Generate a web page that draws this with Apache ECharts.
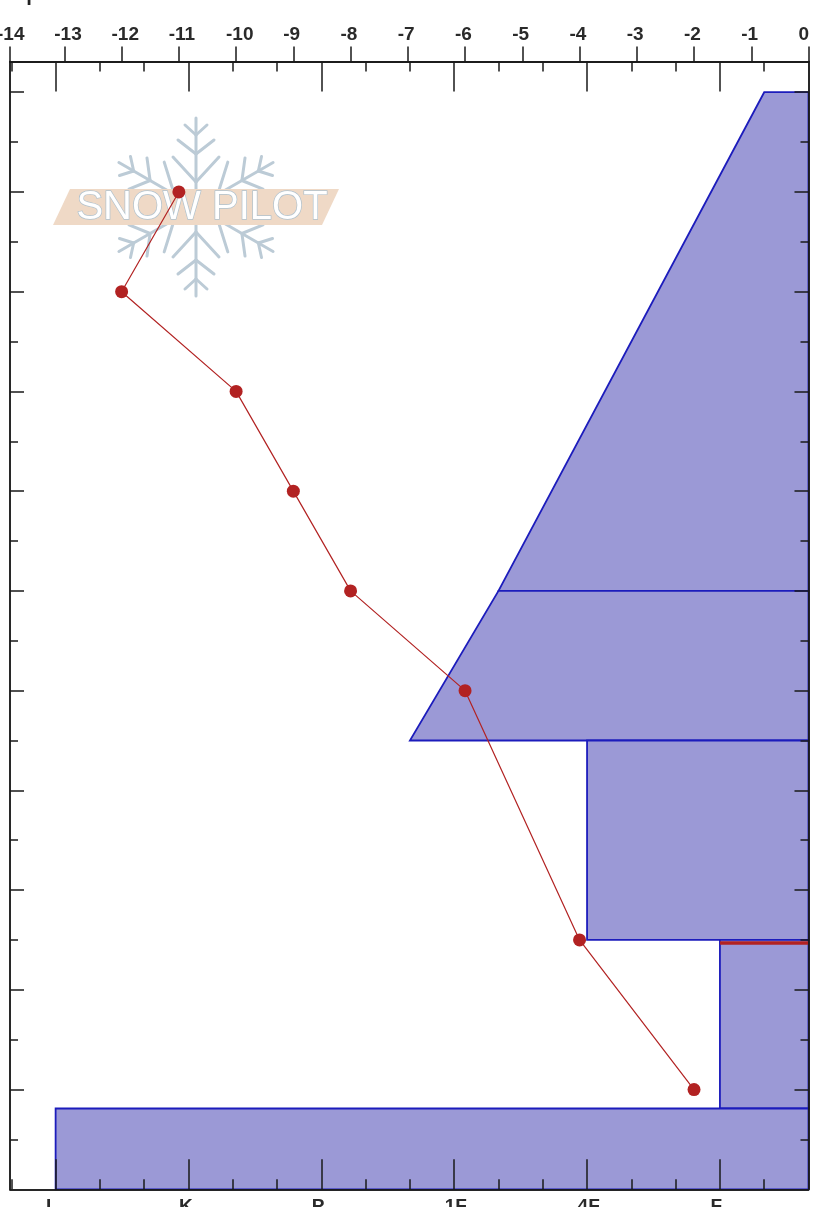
<!DOCTYPE html>
<html>
<head>
<meta charset="utf-8">
<style>
  html, body { margin: 0; padding: 0; background: #fff; overflow: hidden; }
  #main { width: 814px; height: 1207px; }
</style>
<script src="https://cdn.jsdelivr.net/npm/echarts@6/dist/echarts.min.js"></script>
</head>
<body>
<div id="main"></div>
<script>
  // temperature profile
  const tempHeights = [100, 90, 80, 70, 60, 50, 25, 10];
  const tempValues = [-11, -12, -10, -9, -8, -6, -4, -2];
  const tempTickLabels = [-14, -13, -12, -11, -10, -9, -8, -7, -6, -5, -4, -3, -2, -1, 0];

  // hardness scale, in thirds of a step counted from the right edge
  const hardnessLabels = ['I', 'K', 'P', '1F', '4F', 'F'];
  const hardnessMajor = [-17, -14, -11, -8, -5, -2];
  const hardnessMinor = [-18, -16, -15, -13, -12, -10, -9, -7, -6, -4, -3, -1];

  // snow layers, top to bottom
  const layerTop = [110, 60, 45, 25, 8.1];
  const layerBottom = [60, 45, 25, 8.1, 0];
  const layerHardTop = [-1, -7, -5, -2, -17];
  const layerHardBottom = [-7, -9, -5, -2, -17];

  const criticalHardness = [-2, 0];
  const criticalHeight = [24.7, 24.7];

  const heightMajor = [10, 20, 30, 40, 50, 60, 70, 80, 90, 100, 110];
  const heightMinor = [5, 15, 25, 35, 45, 55, 65, 75, 85, 95, 105];

  const tempMin = -13.95;
  const hardMin = -18.03;
  const heightMax = 113.08;
  const inkColor = '#1a1a1a';
  const labelFont = { fontFamily: 'Liberation Sans', fontSize: 19, fontWeight: 'bold', color: '#2a2a2a' };

  let myChart = echarts.init(document.getElementById('main'), null, { renderer: 'canvas' });

  function tickLine(len, width) {
    return { show: true, inside: true, length: len, lineStyle: { color: inkColor, width: width || 1.5 } };
  }

  function hardnessAxis(position, values, len) {
    let axisTick = tickLine(len);
    axisTick.customValues = values;
    return {
      type: 'value', gridIndex: 0, position: position, min: hardMin, max: 0, z: 5,
      axisLine: { show: true, onZero: false, lineStyle: { color: inkColor, width: 1.5 } },
      axisTick: axisTick, axisLabel: { show: false }, splitLine: { show: false }
    };
  }

  function heightAxis(position, values, len) {
    let axisTick = tickLine(len);
    axisTick.customValues = values;
    return {
      type: 'value', gridIndex: 0, position: position, min: 0, max: heightMax, z: 5,
      axisLine: { show: true, onZero: false, lineStyle: { color: inkColor, width: 1.5 } },
      axisTick: axisTick, axisLabel: { show: false }, splitLine: { show: false }
    };
  }

  // Logo behind the plot: one snowflake arm rotated six times, banner and name over it.
  function logoGraphic() {
    const cx = 196, cy = 207;
    const color = '#bccbd6';
    const branches = [[25, 23, 25], [53, 18, 14], [72, 11, 10]];
    let children = [];
    for (let k = 0; k < 6; k++) {
      let a = k * Math.PI / 3;
      let rot = (x, y) => [cx + x * Math.cos(a) + y * Math.sin(a), cy + x * Math.sin(a) - y * Math.cos(a)];
      let segs = [[[0, 0], [0, 89]]];
      branches.forEach(b => {
        segs.push([[0, b[0]], [-b[1], b[0] + b[2]]]);
        segs.push([[0, b[0]], [b[1], b[0] + b[2]]]);
      });
      segs.forEach(s => {
        let p = rot(s[0][0], s[0][1]), q = rot(s[1][0], s[1][1]);
        children.push({
          type: 'line',
          shape: { x1: p[0], y1: p[1], x2: q[0], y2: q[1] },
          style: { stroke: color, lineWidth: 3, lineCap: 'round' }
        });
      });
    }
    children.push({
      type: 'polygon',
      shape: { points: [[70, 189], [339, 189], [322, 225], [53, 225]] },
      style: { fill: '#efd9c6' }
    });
    children.push({
      type: 'text', x: 202, y: 208,
      style: {
        text: 'SNOW PILOT', font: '40px "Liberation Sans"', fill: '#fff', stroke: '#b0c2ce', lineWidth: 1.4,
        textAlign: 'center', textVerticalAlign: 'middle'
      }
    });
    // clipped title stem at the top edge of the picture
    children.push({
      type: 'text', x: 29, y: 9,
      style: {
        text: 'T', font: 'bold 19px "Liberation Sans"', fill: '#222',
        textAlign: 'center', textVerticalAlign: 'bottom'
      }
    });
    return [{ type: 'group', z: 0, children: children }];
  }

  let option = {
    animation: false,
    backgroundColor: '#fff',
    graphic: logoGraphic(),
    grid: [
      { left: 10, right: 5.5, top: 61.5, height: 1127.8, outerBoundsMode: 'none' },
      // labels start left of their tick on this chart, so they sit on shifted grids
      { left: -3, right: 15.5, top: 61.5, height: 1127.8, outerBoundsMode: 'none' },
      { left: 0.5, right: 15, top: 61.5, height: 1127.8, outerBoundsMode: 'none' }
    ],
    xAxis: [
      // 0: temperature ticks
      {
        type: 'value', gridIndex: 0, position: 'top', min: tempMin, max: 0, z: 5,
        axisLine: { show: true, onZero: false, lineStyle: { color: inkColor, width: 1.5 } },
        axisTick: {
          show: true, inside: false, length: 15, lineStyle: { color: inkColor, width: 1.5 },
          customValues: tempTickLabels.map(v => Math.max(v, tempMin))
        },
        axisLabel: { show: false }, splitLine: { show: false }
      },
      // 1: temperature labels
      {
        type: 'value', gridIndex: 1, position: 'top', min: -14, max: 0,
        axisLine: { show: false }, axisTick: { show: false }, splitLine: { show: false },
        axisLabel: Object.assign({
          show: true, margin: 17, align: 'left', customValues: tempTickLabels,
          showMinLabel: true, showMaxLabel: true, hideOverlap: false
        }, labelFont)
      },
      // 2-5: hardness ticks, both sides
      hardnessAxis('bottom', hardnessMajor, 30),
      hardnessAxis('bottom', hardnessMinor, 10),
      hardnessAxis('top', hardnessMajor, 30),
      hardnessAxis('top', hardnessMinor, 10),
      // 6: hardness labels
      {
        type: 'value', gridIndex: 2, position: 'bottom', min: hardMin, max: 0,
        axisLine: { show: false }, axisTick: { show: false }, splitLine: { show: false },
        axisLabel: Object.assign({
          show: true, margin: 8, align: 'left', customValues: hardnessMajor,
          formatter: function (v) { return hardnessLabels[hardnessMajor.indexOf(v)]; }
        }, labelFont)
      }
    ],
    yAxis: [
      heightAxis('left', heightMajor, 14),
      heightAxis('left', heightMinor, 8),
      heightAxis('right', heightMajor, 14),
      heightAxis('right', heightMinor, 8),
      { type: 'value', gridIndex: 1, min: 0, max: heightMax, show: false },
      { type: 'value', gridIndex: 2, min: 0, max: heightMax, show: false }
    ],
    series: [
      {
        type: 'custom',
        z: 2,
        xAxisIndex: 2,
        yAxisIndex: 0,
        clip: false,
        data: layerTop.map((top, i) => [layerHardTop[i], top, layerHardBottom[i], layerBottom[i]]),
        renderItem: function (params, api) {
          let a = api.coord([api.value(0), api.value(1)]);
          let b = api.coord([0, api.value(1)]);
          let c = api.coord([0, api.value(3)]);
          let d = api.coord([api.value(2), api.value(3)]);
          return {
            type: 'polygon',
            shape: { points: [a, b, c, d] },
            style: { fill: '#9b99d6', stroke: '#1c1cbc', lineWidth: 1.8 }
          };
        }
      },
      {
        type: 'line',
        z: 3,
        xAxisIndex: 2,
        yAxisIndex: 0,
        data: criticalHardness.map((v, i) => [v, criticalHeight[i]]),
        symbol: 'none',
        lineStyle: { color: '#b22222', width: 3.5 }
      },
      {
        type: 'line',
        z: 6,
        xAxisIndex: 0,
        yAxisIndex: 0,
        data: tempValues.map((v, i) => [v, tempHeights[i]]),
        symbol: 'circle',
        symbolSize: 13,
        itemStyle: { color: '#b22222' },
        lineStyle: { color: '#b22222', width: 1.2 }
      }
    ]
  };
  myChart.setOption(option);
</script>
</body>
</html>
